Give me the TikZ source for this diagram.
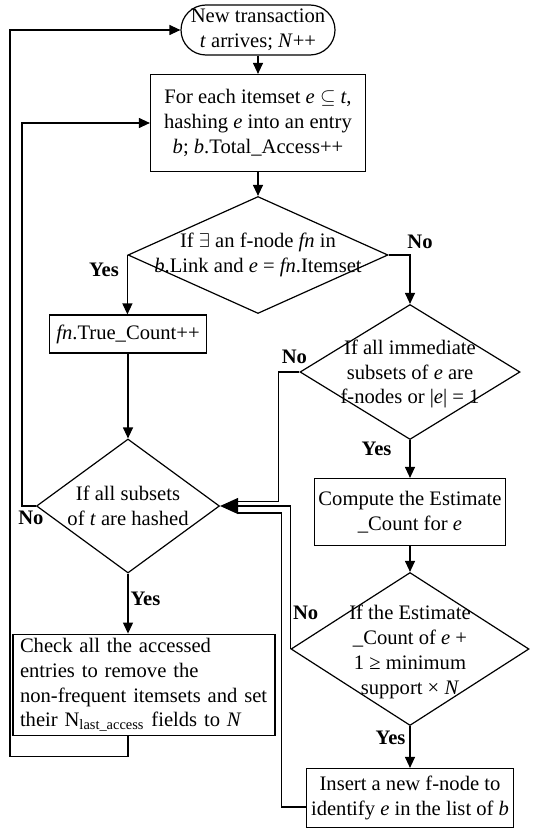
\documentclass[tikz,border=0pt]{standalone}
\usepackage{fontspec}
\setmainfont{Liberation Serif}
\usetikzlibrary{shapes,arrows.meta}
\newcommand{\fs}{\fontsize{10.3pt}{12.4pt}\selectfont}
\tikzstyle{r} = [rectangle, draw, align=center, inner sep=2pt, font=\fs]
\tikzstyle{st} = [rectangle, rounded corners=12.5pt, draw, align=center, inner sep=1pt, minimum width=77pt, minimum height=25pt, font=\fs]
\tikzstyle{d} = [diamond, draw, inner sep=0pt]
\tikzstyle{dt} = [align=center, font=\fs]
\tikzstyle{ar} = [draw, -{Triangle[length=5.5pt,width=5pt]}]
\tikzstyle{arb} = [draw, -{Triangle[length=9pt,width=8pt]}]
\tikzstyle{yn} = [font=\fs\bfseries, inner sep=1pt]

\begin{document}
\begin{tikzpicture}[line width=0.6pt]
		\useasboundingbox (0,0) rectangle (268pt,-414.5pt);
		\node[st](1) at (129pt,-15pt){New transaction\\ \textit{t} arrives; \textit{N}++};
		\node[r,below of=1,node distance=46.5pt,minimum width=107.5pt,minimum height=48.5pt](2){For each itemset \textit{e} $\subseteq$ \textit{t},\\ hashing \textit{e} into an entry\\ \textit{b}; \textit{b}.Total\_Access++};
		\node[d,below of=2,node distance=66pt,minimum width=130pt,minimum height=58.5pt,label={[dt]center:{If $\exists$ an f-node \textit{fn} in\\ \textit{b}.Link and \textit{e} = \textit{fn}.Itemset}}](3){};
		\node[r,below of=3,node distance=39.5pt,xshift=-65pt,minimum width=78.5pt,minimum height=19pt](4){\textit{fn}.True\_Count++};
		\node[d,below of=3,node distance=58.5pt,xshift=76pt,minimum width=110pt,minimum height=67.5pt,label={[dt,yshift=-1pt]center:{If all immediate\\ subsets of \textit{e} are\\ f-nodes or \textbar\textit{e}\textbar{} = 1}}](5){};
		\node[d,below of=4,node distance=86pt,minimum width=91.5pt,minimum height=67pt,label={[dt]center:{If all subsets\\ of \textit{t} are hashed}}](6){};
		\node[r,below of=6,node distance=89.5pt,xshift=8pt,minimum width=131pt,minimum height=48pt,text width=124pt,align=left](7){Check all the accessed\\ entries to remove the\\ non-frequent itemsets and set\\ their N\textsubscript{last\_access} fields to \textit{N}};
		\node[r,below of=5,node distance=70pt,minimum width=94.5pt,minimum height=33.5pt](8){Compute the Estimate\\ \_Count for \textit{e}};
		\node[d,below of=8,node distance=68.5pt,minimum width=119pt,minimum height=76.5pt,label={[dt,yshift=-1.5pt]center:{If the Estimate\\ \_Count of \textit{e} +\\ 1 ≥ minimum\\ support × \textit{N}}}](9){};
		\node[r,below of=9,node distance=74.5pt,minimum width=103.5pt,minimum height=29.5pt](10){Insert a new f-node to\\ identify \textit{e} in the list of \textit{b}};

		\draw[ar] (1)--(2);
		\draw[ar] (2)--(3);
		\draw[ar] (3.west)--node[yn,pos=0.25,left=3pt]{Yes}(3.west |- 4.north);
		\draw[ar] (3.east)-|node[yn,pos=0.5,above=2pt,xshift=5pt]{No}(5.north);
		\draw[ar] (4)--(6);
		\draw[ar] (5)--node[yn,pos=0.24,left=8pt]{Yes}(8);
		\draw[ar] (8)--(9);
		\draw[ar] (9)--node[yn,pos=0.29,left=1pt]{Yes}(10);
		\draw[ar] (6.south)--node[yn,pos=0.42,right=0pt]{Yes}(6.south |- 7.north);
		% loops back to the top
		\draw[ar] (6.west)--node[yn,pos=0.36,below=1pt]{No}++(-7pt,0) |- (2.west);
		\draw[ar] (6.south |- 7.south)--++(0,-10pt)--++(-59pt,0) |- (1.west);
		% the three lines into one arrow
		\draw (5.west)--node[yn,pos=0.24,above=3pt]{No}++(-10.5pt,0) |- ([xshift=9pt,yshift=2.25pt]6.east);
		\draw ([yshift=-4.5pt]10.west)--++(-12.25pt,0) |- ([xshift=9pt,yshift=-3.5pt]6.east);
		\draw[arb] (9.west) |- node[yn,pos=0.125,right=0pt]{No}(6.east);
		\end{tikzpicture}
\end{document}
